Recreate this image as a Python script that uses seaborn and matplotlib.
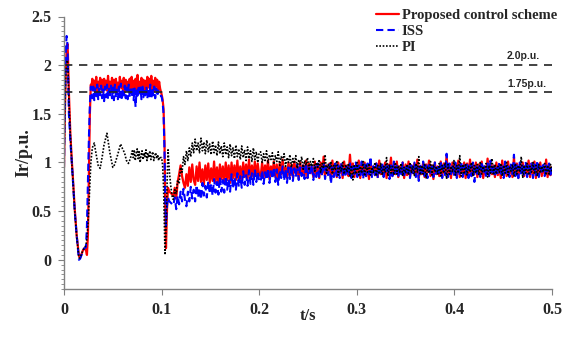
import numpy as np
import pandas as pd
import matplotlib
matplotlib.use("Agg")
import matplotlib.pyplot as plt
import seaborn as sns
from matplotlib.ticker import MultipleLocator, FuncFormatter

# --- data ---
# start-up transient (shared time points)
t_start = [0, 0.001, 0.002, 0.0027, 0.0035, 0.004, 0.005, 0.0065, 0.008, 0.0095, 0.011, 0.013,
           0.0153, 0.0165, 0.018, 0.0195, 0.021, 0.0225, 0.0235, 0.0245, 0.0255, 0.0265, 0.0275]
red_start = [0.95, 1.55, 2.0, 2.15, 2.22, 2.12, 1.72, 1.3, 1.02, 0.78, 0.52, 0.25,
             0.04, 0.02, 0.06, 0.1, 0.12, 0.1, 0.05, 0.25, 0.9, 1.5, 1.8]
blue_start = [0.95, 1.7, 2.2, 2.3, 2.22, 2.0, 1.5, 1.22, 1.0, 0.75, 0.5, 0.25,
              0.0, 0.01, 0.05, 0.1, 0.12, 0.13, 0.35, 0.8, 1.25, 1.6, 1.78]
black_start = [1.0, 1.6, 1.95, 2.02, 2.05, 2.0, 1.65, 1.28, 1.0, 0.76, 0.5, 0.24,
               0.02, 0.02, 0.06, 0.1, 0.12, 0.15, 0.22, 0.35, 0.55, 0.78, 1.0]

# current-limit plateau 0.028 - 0.0995 s
red_flat = [1.76, 1.86, 1.74, 1.84, 1.77, 1.88, 1.73, 1.83, 1.78, 1.87, 1.75, 1.85, 1.72, 1.86, 1.77, 1.84, 1.74, 1.89, 1.76, 1.83,
            1.73, 1.87, 1.78, 1.85, 1.74, 1.86, 1.76, 1.82, 1.73, 1.88, 1.77, 1.84, 1.75, 1.87, 1.72, 1.85, 1.78, 1.83, 1.74, 1.86,
            1.76, 1.88, 1.73, 1.84, 1.77, 1.86, 1.74, 1.9, 1.76, 1.83, 1.73, 1.87, 1.78, 1.85, 1.75, 1.84, 1.72, 1.88, 1.77, 1.86,
            1.74, 1.89, 1.76, 1.84, 1.73, 1.87, 1.78, 1.85, 1.74, 1.83, 1.76, 1.72]
blue_flat = [1.72, 1.66, 1.78, 1.64, 1.76, 1.68, 1.8, 1.65, 1.77, 1.69, 1.79, 1.66, 1.75, 1.63, 1.78, 1.67, 1.8, 1.65, 1.76, 1.69,
             1.79, 1.66, 1.77, 1.64, 1.8, 1.68, 1.75, 1.65, 1.78, 1.67, 1.81, 1.64, 1.76, 1.69, 1.79, 1.66, 1.77, 1.65, 1.8, 1.67,
             1.75, 1.68, 1.78, 1.64, 1.76, 1.57, 1.74, 1.66, 1.79, 1.68, 1.77, 1.65, 1.8, 1.67, 1.75, 1.69, 1.78, 1.66, 1.76, 1.68,
             1.8, 1.65, 1.77, 1.69, 1.78, 1.66, 1.76, 1.68, 1.74, 1.7, 1.71, 1.68]
black_osc_t = [0.029, 0.031, 0.033, 0.035, 0.037, 0.039, 0.041, 0.044, 0.047, 0.05, 0.052, 0.055,
               0.058, 0.06, 0.062, 0.064, 0.066, 0.068]
black_osc = [1.15, 1.2, 1.08, 0.97, 0.94, 1.05, 1.18, 1.3, 1.1, 0.95, 0.98, 1.08,
             1.19, 1.14, 1.1, 1.02, 0.99, 1.04]
# 0.069 - 0.099 s
black_jit = [1.08, 1.12, 1.05, 1.13, 1.02, 1.09, 1.14, 1.04, 1.11, 1.0, 1.08, 1.12, 1.03, 1.1, 1.06, 1.13,
             1.02, 1.09, 1.05, 1.12, 1.03, 1.08, 1.11, 1.02, 1.07, 1.1, 1.04, 1.08, 1.02, 1.06, 1.05]

# fault at 0.1 s
drop_t = [0.1, 0.101, 0.102, 0.103, 0.1037, 0.1045, 0.1055, 0.1065, 0.108, 0.11]
red_drop = [1.7, 1.65, 1.55, 1.2, 0.6, 0.12, 0.5, 0.74, 0.7, 0.68]
blue_drop = [1.68, 1.62, 1.5, 1.1, 0.6, 0.35, 0.55, 0.64, 0.6, 0.58]
black_drop_t = [0.1, 0.101, 0.102, 0.1028, 0.1035, 0.1045, 0.1058, 0.1066, 0.108, 0.1095, 0.111]
black_drop = [1.05, 0.98, 0.75, 0.4, 0.05, 0.3, 0.85, 1.13, 0.9, 0.75, 0.64]

# recovery 0.112 - 0.2 s
red_rec = [0.66, 0.74, 0.63, 0.8, 0.88, 0.97, 0.86, 0.79, 0.74, 0.88, 0.76, 0.95, 0.8, 0.98, 0.82, 0.77, 0.96, 0.81, 1.0, 0.8,
           0.93, 0.77, 0.97, 0.82, 0.99, 0.79, 0.94, 0.81, 1.01, 0.8, 0.95, 0.78, 0.98, 0.83, 0.96, 0.8, 1.0, 0.82, 0.97, 0.79,
           1.0, 0.84, 0.97, 0.82, 1.02, 0.83, 0.96, 0.81, 1.0, 0.85, 0.98, 0.83, 1.03, 0.84, 0.97, 0.85, 1.01, 0.86, 0.99, 0.87]
blue_rec = [0.56, 0.64, 0.52, 0.66, 0.57, 0.7, 0.6, 0.73, 0.62, 0.55, 0.7, 0.6, 0.75, 0.63, 0.72, 0.6, 0.77, 0.64, 0.74, 0.62,
            0.79, 0.66, 0.76, 0.64, 0.81, 0.68, 0.78, 0.66, 0.83, 0.69, 0.8, 0.67, 0.85, 0.7, 0.82, 0.69, 0.86, 0.72, 0.83, 0.7,
            0.88, 0.73, 0.85, 0.72, 0.89, 0.75, 0.86, 0.74, 0.91, 0.77, 0.87, 0.76, 0.92, 0.78, 0.89, 0.77, 0.93, 0.8, 0.9, 0.81]
black_rec = [0.62, 0.72, 0.68, 0.82, 0.78, 0.95, 0.9, 1.06, 0.98, 1.12, 1.02, 1.15, 1.06, 1.2, 1.1, 1.24, 1.12, 1.2, 1.1, 1.25,
             1.12, 1.21, 1.09, 1.23, 1.11, 1.19, 1.08, 1.22, 1.1, 1.18, 1.07, 1.21, 1.09, 1.17, 1.06, 1.2, 1.08, 1.16, 1.05, 1.19,
             1.07, 1.15, 1.04, 1.18, 1.06, 1.14, 1.03, 1.17, 1.05, 1.13, 1.02, 1.16, 1.04, 1.12, 1.01, 1.15, 1.03, 1.11, 1.0, 1.1]

# steady state 0.2015 - 0.5 s
red_ss = [0.86, 1.0, 0.84, 0.97, 0.88, 1.02, 0.83, 0.96, 0.89, 1.01, 0.85, 0.98, 0.82, 0.99, 0.88, 1.03, 0.86, 0.95, 0.84, 1.0,
          0.87, 0.98, 0.85, 1.01, 0.89, 0.96, 0.83, 1.0, 0.88, 0.97, 0.86, 1.02, 0.84, 0.99, 0.89, 0.95, 0.85, 1.01, 0.87, 0.98,
          0.84, 1.0, 0.88, 1.06, 0.86, 0.97, 0.9, 0.99, 0.83, 1.02, 0.87, 0.96, 0.85, 1.0, 0.89, 0.98, 0.84, 1.01, 0.88, 0.97,
          0.86, 1.08, 0.87, 0.99, 0.85, 0.96, 0.89, 1.02, 0.84, 0.98, 0.88, 1.0, 0.86, 0.97, 0.83, 1.01, 0.89, 0.96, 0.87, 0.99,
          0.85, 1.02, 0.88, 0.97, 0.86, 1.0, 0.84, 0.98, 0.9, 1.05, 0.86, 0.97, 0.88, 1.01, 0.85, 0.96, 0.89, 1.0, 0.84, 0.98,
          0.87, 1.01, 0.85, 0.97, 0.89, 0.99, 0.86, 1.03, 0.84, 0.96, 0.88, 1.0, 0.85, 0.98, 0.9, 1.02, 0.86, 0.97, 0.83, 1.0,
          0.88, 0.96, 0.86, 1.01, 0.85, 0.99, 0.89, 1.07, 0.87, 0.97, 0.84, 1.0, 0.88, 0.98, 0.86, 1.02, 0.85, 0.96, 0.89, 1.0,
          0.84, 0.99, 0.87, 1.03, 0.86, 0.97, 0.88, 1.0, 0.85, 0.98, 0.89, 1.01, 0.84, 0.96, 0.87, 1.04, 0.86, 0.99, 0.88, 0.97,
          0.85, 1.0, 0.87, 0.98, 0.84, 1.02, 0.89, 0.96, 0.86, 1.01, 0.88, 0.97, 0.85, 1.05, 0.87, 0.99, 0.84, 0.98, 0.89, 1.0,
          0.86, 0.97, 0.88, 1.02, 0.85, 0.99, 0.87, 1.01, 0.84, 0.98, 0.89, 1.0, 0.86, 0.96, 0.88, 1.03, 0.85, 0.98, 0.87, 0.95]
blue_ss = [0.8, 0.92, 0.78, 0.9, 0.82, 0.94, 0.79, 0.91, 0.83, 0.95, 0.8, 0.93, 0.77, 0.92, 0.84, 0.96, 0.81, 0.93, 0.79, 0.95,
           0.83, 0.97, 0.81, 0.94, 0.85, 0.98, 0.82, 0.95, 0.86, 0.97, 0.83, 0.99, 0.84, 0.95, 0.87, 0.98, 0.82, 0.96, 0.85, 0.99,
           0.84, 0.97, 0.86, 1.0, 0.83, 0.96, 0.87, 0.98, 0.78, 0.95, 0.85, 0.99, 0.86, 0.97, 0.84, 1.0, 0.87, 0.96, 0.85, 0.98,
           0.86, 0.99, 0.84, 0.96, 0.88, 1.0, 0.85, 0.97, 0.87, 1.01, 0.83, 0.98, 0.86, 0.99, 0.88, 1.06, 0.85, 0.96, 0.87, 0.99,
           0.84, 0.98, 0.87, 1.0, 0.85, 0.96, 0.88, 0.99, 0.83, 0.97, 0.86, 1.01, 0.87, 0.98, 0.84, 0.96, 0.88, 1.0, 0.85, 0.97,
           0.87, 0.99, 0.84, 0.97, 0.88, 1.0, 0.85, 0.96, 0.81, 0.98, 0.87, 1.01, 0.86, 0.97, 0.84, 0.99, 0.88, 0.96, 0.85, 1.0,
           0.86, 0.98, 0.88, 1.02, 0.84, 0.97, 0.87, 1.09, 0.85, 0.99, 0.88, 0.96, 0.86, 1.0, 0.84, 0.98, 0.87, 1.01, 0.85, 0.97,
           0.88, 0.99, 0.84, 0.97, 0.86, 1.0, 0.8, 0.98, 0.87, 0.96, 0.85, 1.01, 0.88, 0.97, 0.84, 0.99, 0.86, 1.02, 0.87, 0.98,
           0.85, 0.97, 0.88, 1.0, 0.86, 0.98, 0.84, 1.01, 0.87, 0.96, 0.85, 0.99, 0.88, 1.08, 0.86, 0.97, 0.84, 1.0, 0.87, 0.98,
           0.86, 1.01, 0.85, 0.97, 0.88, 0.99, 0.84, 0.98, 0.87, 1.02, 0.85, 0.96, 0.88, 1.0, 0.86, 0.97, 0.89, 0.99, 0.85, 0.98]
black_ss = [1.11, 1.0, 1.09, 1.02, 1.12, 0.99, 1.08, 1.03, 1.1, 0.98, 1.07, 1.01, 1.11, 0.97, 1.06, 1.02, 1.09, 0.96, 1.05, 1.0,
            1.08, 0.95, 1.04, 0.99, 1.07, 0.94, 1.03, 0.98, 1.06, 0.93, 1.02, 0.97, 1.05, 0.92, 1.01, 0.96, 1.04, 0.91, 1.0, 0.95,
            1.03, 0.9, 0.99, 0.94, 1.08, 0.89, 0.98, 0.93, 1.01, 0.88, 0.97, 0.92, 1.02, 0.87, 0.96, 0.91, 1.0, 0.88, 0.98, 0.9,
            0.99, 0.86, 0.97, 0.82, 0.98, 0.88, 1.0, 0.87, 0.96, 0.89, 1.01, 0.86, 0.97, 0.9, 0.99, 0.87, 0.95, 0.89, 1.0, 0.86,
            0.97, 0.88, 0.99, 0.87, 0.96, 0.9, 1.05, 0.86, 0.98, 0.89, 0.96, 0.87, 1.0, 0.88, 0.97, 0.9, 0.99, 0.86, 0.95, 0.89,
            0.98, 0.87, 1.0, 0.89, 0.96, 0.86, 0.99, 0.9, 1.06, 0.87, 0.97, 0.88, 0.99, 0.84, 0.96, 0.89, 1.01, 0.87, 0.98, 0.9,
            0.96, 0.88, 0.99, 0.86, 0.97, 0.89, 1.0, 0.83, 0.98, 0.88, 0.96, 0.9, 1.02, 0.87, 0.97, 0.89, 1.07, 0.86, 0.98, 0.88,
            0.99, 0.87, 0.96, 0.9, 1.0, 0.86, 0.97, 0.89, 0.98, 0.87, 1.01, 0.88, 0.96, 0.9, 0.99, 0.85, 0.97, 0.89, 1.04, 0.87,
            0.98, 0.88, 0.96, 0.9, 0.99, 0.86, 0.97, 0.89, 1.0, 0.87, 0.96, 0.91, 0.98, 0.86, 0.99, 0.88, 0.97, 0.9, 1.06, 0.84,
            0.97, 0.89, 0.99, 0.87, 0.96, 0.9, 1.0, 0.88, 0.97, 0.86, 0.98, 0.89, 0.96, 0.9, 0.99, 0.87, 0.97, 0.88, 0.98, 0.9]

ref_levels = [2.0, 1.72]
ref_labels = ["2.0p.u.", "1.75p.u."]
labels = ["Proposed control scheme", "ISS", "PI"]


def series(start, flat_t, flat, d_t, drop, rec, ss):
    t = np.concatenate([t_start, flat_t, d_t,
                        np.linspace(0.112, 0.2, len(rec)),
                        np.linspace(0.2015, 0.5, len(ss))])
    v = np.concatenate([start, flat, drop, rec, ss])
    return t, v


red_t, red_v = series(red_start, np.linspace(0.028, 0.0995, len(red_flat)), red_flat,
                      drop_t, red_drop, red_rec, red_ss)
blue_t, blue_v = series(blue_start, np.linspace(0.028, 0.0995, len(blue_flat)), blue_flat,
                        drop_t, blue_drop, blue_rec, blue_ss)
black_t, black_v = series(black_start,
                          np.concatenate([black_osc_t, np.linspace(0.069, 0.099, len(black_jit))]),
                          black_osc + black_jit,
                          black_drop_t, black_drop, black_rec, black_ss)

sns.set_style("ticks")
plt.rcParams['font.family'] = ['Liberation Serif', 'DejaVu Sans']
plt.rcParams['font.weight'] = 'bold'

fig = plt.figure(figsize=(5.68, 3.39), dpi=100)
ax = fig.add_axes([64 / 568, 50 / 339, 488 / 568, 272.5 / 339])

sns.lineplot(x=red_t, y=red_v, ax=ax, color='#ff0000', lw=1.6, label=labels[0],
             estimator=None, sort=False)
sns.lineplot(x=blue_t, y=blue_v, ax=ax, color='#0000ff', lw=1.5, label=labels[1],
             linestyle=(0, (3.5, 2)), estimator=None, sort=False)
sns.lineplot(x=black_t, y=black_v, ax=ax, color='#000000', lw=1.2, label=labels[2],
             linestyle=(0, (1, 1)), estimator=None, sort=False)

for lvl, txt in zip(ref_levels, ref_labels):
    ax.hlines(lvl, 0, 0.5, colors='#222222', linestyles=(0, (5, 4)), lw=1.2)
    ax.text(0.454, lvl + 0.04, txt, fontsize=7.5, fontweight='bold',
            family=['Liberation Sans', 'DejaVu Sans'], va='bottom', ha='left')

ax.set_xlim(0, 0.5)
ax.set_ylim(-0.3, 2.5)
ax.set_xticks([0, 0.1, 0.2, 0.3, 0.4, 0.5])
ax.set_yticks([0, 0.5, 1, 1.5, 2, 2.5])
ax.yaxis.set_minor_locator(MultipleLocator(0.05))
fmt = FuncFormatter(lambda v, p: '%g' % round(v, 2))
ax.xaxis.set_major_formatter(fmt)
ax.yaxis.set_major_formatter(fmt)
ax.tick_params(axis='both', which='major', labelsize=11.5, length=4, color='#808080', pad=5)
ax.tick_params(axis='y', which='minor', length=2, color='#808080')
for lab in ax.get_xticklabels() + ax.get_yticklabels():
    lab.set_fontweight('bold')

sns.despine(ax=ax)
for s in ['left', 'bottom']:
    ax.spines[s].set_color('#808080')
    ax.spines[s].set_linewidth(1.0)

ax.set_xlabel('t/s', fontsize=12, fontweight='bold', labelpad=-7)
ax.set_ylabel('Ir/p.u.', fontsize=13, fontweight='bold', labelpad=-1)

ax.legend(loc='upper left', bbox_to_anchor=(376 / 568, 1 - 9 / 339),
          bbox_transform=fig.transFigure, frameon=False,
          handlelength=1.6, handletextpad=0.15, labelspacing=0.2,
          borderpad=0, borderaxespad=0, prop={'weight': 'bold', 'size': 10.5})

fig.savefig('out.png', dpi=100)
